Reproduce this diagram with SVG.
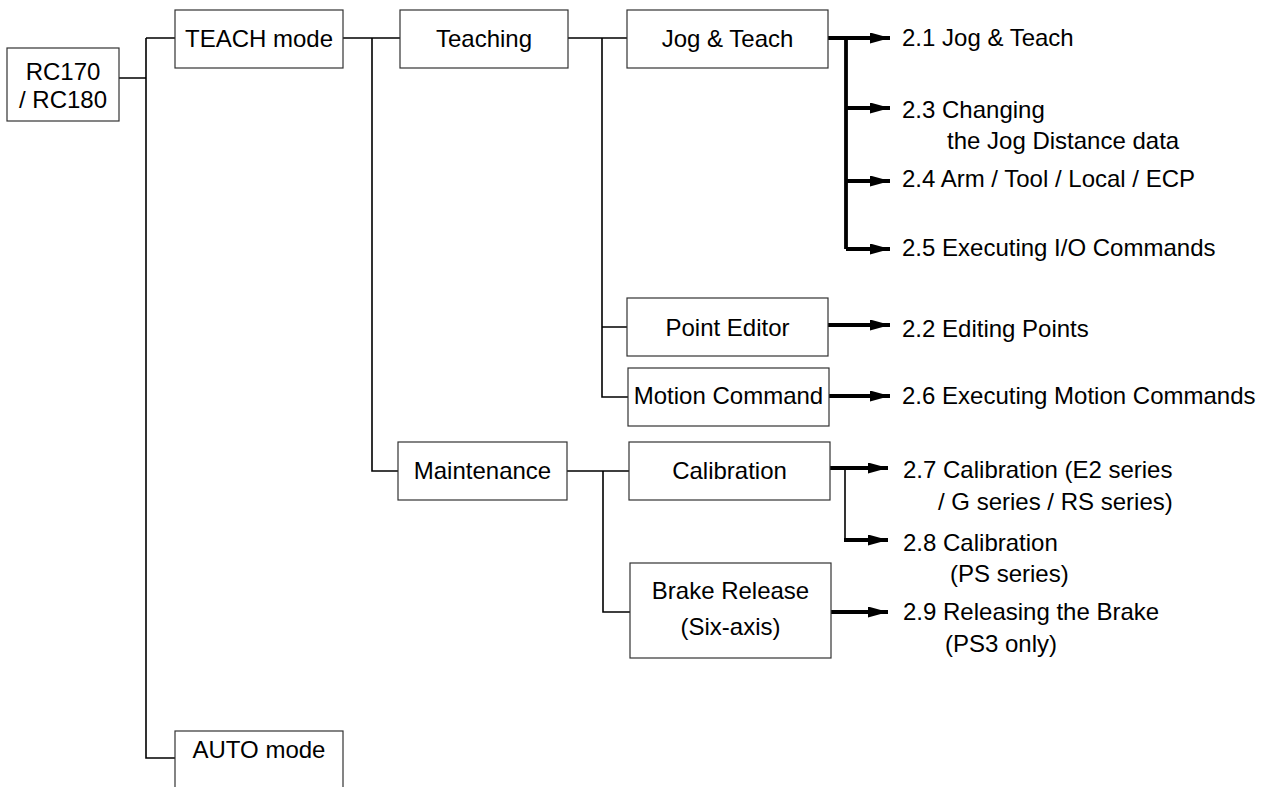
<svg xmlns="http://www.w3.org/2000/svg" width="1264" height="787" viewBox="0 0 1264 787">
<style>
.box{fill:#fff;stroke:#333;stroke-width:1.2}
.t{font-family:"Liberation Sans",Arial,sans-serif;font-size:24px;fill:#000}
.c{text-anchor:middle}
.thin{fill:none;stroke:#000;stroke-width:1.6}
.thick{fill:none;stroke:#000;stroke-width:3.8}
</style>
<defs>
<marker id="ah" markerUnits="userSpaceOnUse" markerWidth="22" markerHeight="12" refX="20" refY="5.5" orient="auto">
<polygon points="0,0 20,5.5 0,11" fill="#000"/>
</marker>
</defs>
<rect width="1264" height="787" fill="#fff"/>
<g id="connectors">
<path class="thin" d="M119,78 H146 M146,38 V758 H175 M146,38 H175"/>
<path class="thin" d="M343,38 H400 M372,38 V471 H398"/>
<path class="thin" d="M568,38 H627 M602,38 V397 H628 M602,327 H627"/>
<path class="thin" d="M567,471 H629 M603,471 V612 H630"/>
<path class="thick" d="M828,38 H846 M846,38 V249"/>
<path class="thick" marker-end="url(#ah)" d="M846,38 H890"/>
<path class="thick" marker-end="url(#ah)" d="M846,108 H890"/>
<path class="thick" marker-end="url(#ah)" d="M846,181 H890"/>
<path class="thick" marker-end="url(#ah)" d="M846,249 H890"/>
<path class="thick" marker-end="url(#ah)" d="M828,325 H890"/>
<path class="thick" marker-end="url(#ah)" d="M829,396 H890"/>
<path class="thick" marker-end="url(#ah)" d="M830,468 H888"/>
<path class="thin" d="M845,468 V540"/>
<path class="thick" marker-end="url(#ah)" d="M844,540 H888"/>
<path class="thick" marker-end="url(#ah)" d="M831,612 H888"/>
</g>
<g id="rc">
<rect class="box" x="7" y="48" width="112" height="73"/>
<text class="t c" x="63" y="80">RC170</text>
<text class="t c" x="63" y="108">/ RC180</text>
</g>
<g id="teach-mode">
<rect class="box" x="175" y="10" width="168" height="58"/>
<text class="t c" x="259" y="46.5">TEACH mode</text>
</g>
<g id="auto-mode">
<rect class="box" x="175" y="731" width="168" height="60"/>
<text class="t c" x="259" y="758">AUTO mode</text>
</g>
<g id="teaching">
<rect class="box" x="400" y="10" width="168" height="58"/>
<text class="t c" x="484" y="46.5">Teaching</text>
</g>
<g id="maintenance">
<rect class="box" x="398" y="442" width="169" height="58"/>
<text class="t c" x="482.5" y="479">Maintenance</text>
</g>
<g id="jog-teach">
<rect class="box" x="627" y="10" width="201" height="58"/>
<text class="t c" x="727.5" y="46.5">Jog &amp; Teach</text>
</g>
<g id="point-editor">
<rect class="box" x="627" y="298" width="201" height="58"/>
<text class="t c" x="727.5" y="336">Point Editor</text>
</g>
<g id="motion-command">
<rect class="box" x="628" y="368" width="201" height="58"/>
<text class="t c" x="728.5" y="404">Motion Command</text>
</g>
<g id="calibration">
<rect class="box" x="629" y="442" width="201" height="58"/>
<text class="t c" x="729.5" y="479">Calibration</text>
</g>
<g id="brake-release">
<rect class="box" x="630" y="563" width="201" height="95"/>
<text class="t c" x="730.5" y="599">Brake Release</text>
<text class="t c" x="730.5" y="635">(Six-axis)</text>
</g>
<g id="labels">
<text class="t" x="902" y="46">2.1 Jog &amp; Teach</text>
<text class="t" x="902" y="118">2.3 Changing</text>
<text class="t" x="947" y="149">the Jog Distance data</text>
<text class="t" x="902" y="186.5">2.4 Arm / Tool / Local / ECP</text>
<text class="t" x="902" y="256">2.5 Executing I/O Commands</text>
<text class="t" x="902" y="336.5">2.2 Editing Points</text>
<text class="t" x="902" y="404">2.6 Executing Motion Commands</text>
<text class="t" x="903" y="478">2.7 Calibration (E2 series</text>
<text class="t" x="938" y="510">/ G series / RS series)</text>
<text class="t" x="903" y="550.5">2.8 Calibration</text>
<text class="t" x="950" y="582">(PS series)</text>
<text class="t" x="903" y="620">2.9 Releasing the Brake</text>
<text class="t" x="945" y="652">(PS3 only)</text>
</g>
</svg>
